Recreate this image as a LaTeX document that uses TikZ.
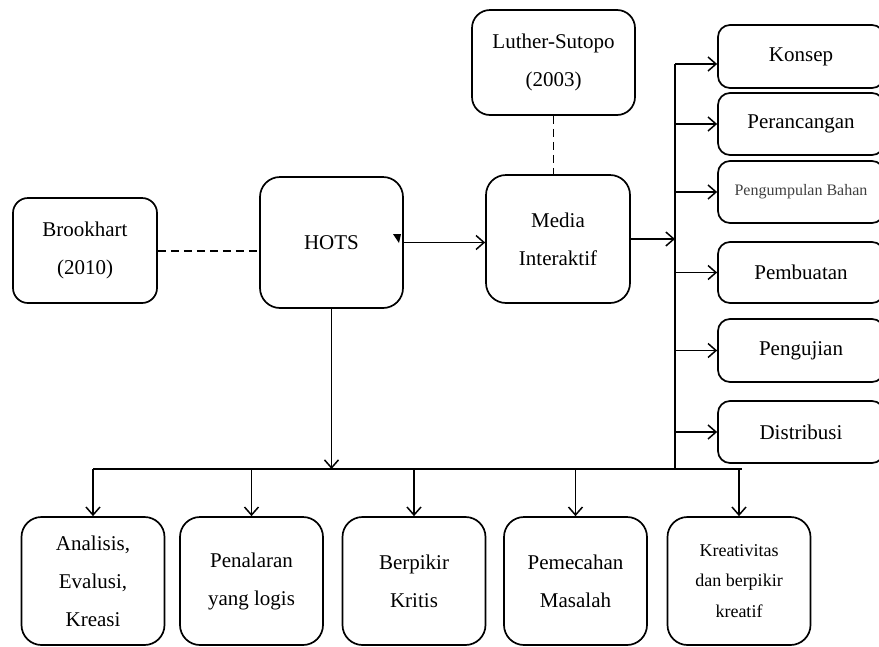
\documentclass[tikz,border=0pt]{standalone}
\usepackage{fontspec}
\setmainfont{Liberation Serif}
\usetikzlibrary{arrows.meta}
\begin{document}
\begin{tikzpicture}[x=1pt,y=-1pt,
  box/.style={draw,line width=1.7pt,rounded corners=15pt,align=center,inner sep=0pt,
    font=\fontsize{21}{38}\selectfont},
  rbox/.style={box,minimum width=166pt,rounded corners=12pt},
  bbox/.style={box,minimum width=143pt,minimum height=128pt,rounded corners=20pt},
  conn/.style={line width=1.7pt},
  arr/.style={conn,-{Straight Barb[length=8pt,width=14pt,line width=1.5pt]}},
  dsh/.style={conn,dash pattern=on 8pt off 5pt}]
\path[use as bounding box,clip] (0,0) rectangle (879,646);
% upper nodes
\node[box,minimum width=144pt,minimum height=105pt] (brook) at (85,250.5) {Brookhart\\(2010)};
\node[box,minimum width=143pt,minimum height=131pt,rounded corners=20pt] (hots) at (331.5,242.5) {HOTS};
\node[box,minimum width=144pt,minimum height=128pt,rounded corners=20pt] (media) at (558,239) {Media\\Interaktif};
\node[box,minimum width=163pt,minimum height=105pt,rounded corners=18pt] (luther) at (553.5,62.5) {Luther-Sutopo\\(2003)};
% right column
\node[rbox,minimum height=63pt] (konsep) at (801,56.5) {Konsep};
\node[rbox,minimum height=62pt] (peranc) at (801,124) {Perancangan};
\node[rbox,minimum height=62pt,font=\fontsize{16}{19}\selectfont,text=black!75] (pengum) at (801,192) {Pengumpulan Bahan};
\node[rbox,minimum height=61pt] (pembu) at (801,272.5) {Pembuatan};
\node[rbox,minimum height=63pt] (penguj) at (801,350.5) {Pengujian};
\node[rbox,minimum height=62pt] (distr) at (801,432) {Distribusi};
% bottom row
\node[bbox] (b1) at (93,581) {Analisis,\\Evalusi,\\Kreasi};
\node[bbox] (b2) at (251.5,581) {Penalaran\\yang logis};
\node[bbox] (b3) at (414,581) {Berpikir\\Kritis};
\node[bbox] (b4) at (575.5,581) {Pemecahan\\Masalah};
\node[bbox,font=\fontsize{18}{30.5}\selectfont] (b5) at (739,581) {Kreativitas\\dan berpikir\\kreatif};
% coordinates
\coordinate (tt) at (675,64);
\coordinate (tb) at (675,470);
\coordinate (hl) at (93,469);
\coordinate (hr) at (742,469);
% dashed links
\draw[dsh] (brook.east |- 0,251) -- (hots.west |- 0,251);
\draw[dsh] (luther.south) -- (luther.south |- media.north);
% HOTS -> Media
\draw[arr] (hots.east) -- (hots.east -| media.west);
\fill (393,234) -- (401,234) -- (399,243) -- cycle;
% Media -> trunk
\draw[arr] (media.east) -- (media.east -| tt);
% trunk
\draw[conn] (tt) -- (tb);
\draw[arr] (tt) -- (tt -| konsep.west);
\foreach \n in {peranc,pengum,pembu,penguj,distr}
  \draw[arr] (tt |- \n.west) -- (\n.west);
% HOTS down
\draw[arr] (hots.south) -- (hots.south |- hl);
\draw[conn] (hl) -- (hr);
\foreach \n in {b1,b2,b3,b4,b5}
  \draw[arr] (\n.north |- hl) -- (\n.north);
\end{tikzpicture}
\end{document}
